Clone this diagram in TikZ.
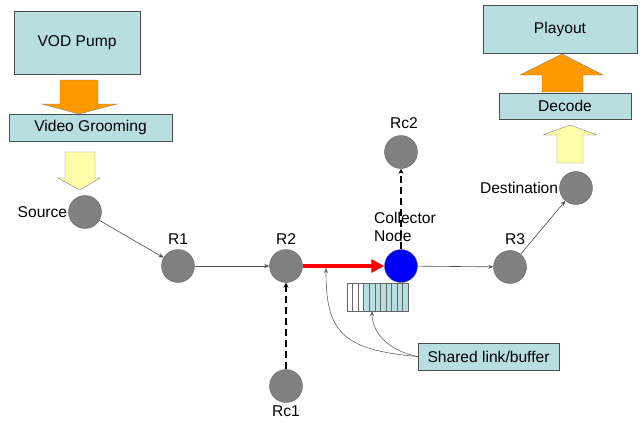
\documentclass[tikz,border=0pt]{standalone}
\usepackage{fontspec}
\setmainfont{Liberation Sans}
\usetikzlibrary{arrows.meta}
\definecolor{boxblue}{RGB}{183,222,225}
\definecolor{nodegrey}{RGB}{128,128,128}
\definecolor{pumporange}{RGB}{255,153,0}
\definecolor{paleyellow}{RGB}{255,255,170}
\begin{document}
\begin{tikzpicture}[x=1pt,y=-1pt,
  font=\fontsize{15.6}{18}\selectfont,
  box/.style={draw=black!70,fill=boxblue,inner sep=0pt},
  router/.style={circle,draw=black!60,fill=nodegrey,minimum size=33pt,inner sep=0pt},
  link/.style={draw=black!70,line width=0.6pt,-{Stealth[length=5pt,width=4pt]}},
  dashlink/.style={draw=black,line width=2.2pt,dash pattern=on 7pt off 4pt,-{Stealth[length=5pt,width=5pt]}},
  lbl/.style={inner sep=1pt}]
\useasboundingbox (0,0) rectangle (643,423);

% boxes
\node[box,minimum width=126pt,minimum height=63pt] (pump) at (77,42.5) {VOD Pump};
\node[box,minimum width=163pt,minimum height=27pt] (groom) at (90.5,127.5) {Video Grooming};
\node[box,minimum width=154pt,minimum height=48pt] (play) at (560,29) {Playout};
\node[box,minimum width=132pt,minimum height=26pt] (dec) at (565,106) {Decode};
\node[box,minimum width=141pt,minimum height=27pt] (shared) at (488.5,356.5) {Shared link/buffer};

% block arrows
\draw[draw=black!50,fill=pumporange] (60,80) -- (98,80) -- (98,104) -- (117,104) -- (79,114) -- (42,104) -- (60,104) -- cycle;
\draw[draw=black!50,fill=paleyellow] (65,152) -- (95,152) -- (95,178) -- (100,178) -- (80,190) -- (58,178) -- (65,178) -- cycle;
\draw[draw=black!50,fill=pumporange] (542,92) -- (583,92) -- (583,75) -- (603,75) -- (562,54) -- (520,75) -- (542,75) -- cycle;
\draw[draw=black!50,fill=paleyellow] (557,163) -- (583,163) -- (583,135) -- (597,135) -- (570,125) -- (543,135) -- (557,135) -- cycle;

% network nodes
\node[router] (src) at (85,212) {};
\node[router] (r1) at (178,266) {};
\node[router] (r2) at (286,266) {};
\node[circle,draw=black!60,fill=blue,minimum size=33pt,inner sep=0pt] (col) at (401,266) {};
\node[router] (r3) at (510,267) {};
\node[router] (dst) at (576,188) {};
\node[router] (rc2) at (401,152) {};
\node[router] (rc1) at (286,386) {};

% labels
\node[lbl,anchor=east] (srcl) at (src.west) {Source};
\node[lbl] (r1l) at (178,239) {R1};
\node[lbl] (r2l) at (286,239) {R2};
\node[lbl] (r3l) at (515,239) {R3};
\node[lbl,anchor=east] (dstl) at (dst.west) {Destination};
\node[lbl] (rc2l) at (404,123) {Rc2};
\node[lbl] (rc1l) at (286,411) {Rc1};

% buffer
\fill[white] (347,283) rectangle (363.5,311);
\fill[boxblue] (363.5,283) rectangle (408,311);
\foreach \i in {1,...,10} \draw[black!60,line width=0.5pt] ({347+\i*5.55},283) -- ({347+\i*5.55},311);
\draw[black!60,line width=0.6pt] (347,283) rectangle (408,311);
\coordinate (bufbot) at (372,311);

% links
\draw[link] (src) -- (r1);
\draw[link] (r1) -- (r2);
\draw[red,line width=4pt,-{Triangle[length=13pt,width=13pt]}] (r2.east) -- (col.west);
\draw[link] (col) -- (r3);
\draw[link] (r3) -- (dst);
\draw[dashlink] (col.north) -- (rc2.south);
\draw[dashlink] (rc1.north) -- (r2.south);

\node[lbl,align=left,anchor=north west] (coll) at (373,211) {Collector\\Node};

% pointers from the shared link label
\coordinate (redpt) at (326,268);
\draw[link,black!60] (shared.west) .. controls (340,350) and (326,330) .. (redpt);
\draw[link,black!60] (shared.west) .. controls (385,350) and (372,330) .. (bufbot);
\end{tikzpicture}
\end{document}
